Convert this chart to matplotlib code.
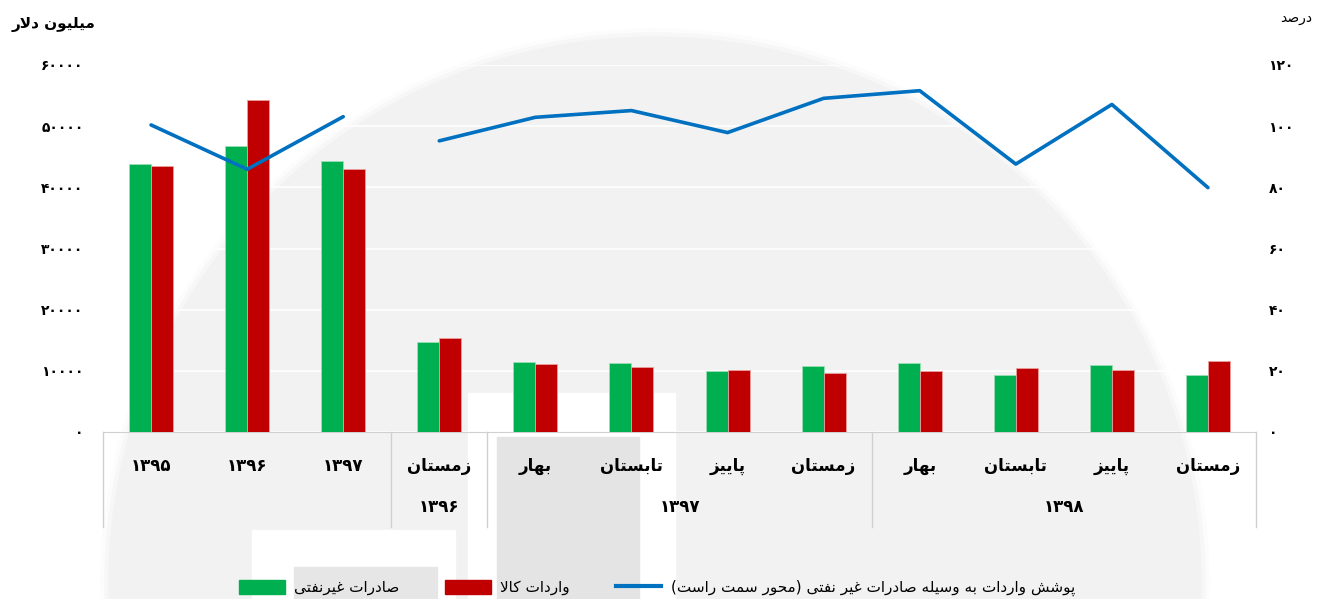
import numpy as np
import matplotlib
matplotlib.use('Agg')
import matplotlib.pyplot as plt
from matplotlib.patches import Ellipse, Rectangle, Patch
from matplotlib.lines import Line2D

# فرم‌های نمایشی حروف فارسی: (جدا، پایانی، آغازی، میانی)
FORMS = {
    'ا': ('\ufe8d', '\ufe8e'), 'د': ('\ufea9', '\ufeaa'), 'ر': ('\ufead', '\ufeae'),
    'ز': ('\ufeaf', '\ufeb0'), 'و': ('\ufeed', '\ufeee'),
    'ب': ('\ufe8f', '\ufe90', '\ufe91', '\ufe92'), 'پ': ('\ufb56', '\ufb57', '\ufb58', '\ufb59'),
    'ت': ('\ufe95', '\ufe96', '\ufe97', '\ufe98'), 'ح': ('\ufea1', '\ufea2', '\ufea3', '\ufea4'),
    'س': ('\ufeb1', '\ufeb2', '\ufeb3', '\ufeb4'), 'ش': ('\ufeb5', '\ufeb6', '\ufeb7', '\ufeb8'),
    'ص': ('\ufeb9', '\ufeba', '\ufebb', '\ufebc'), 'غ': ('\ufecd', '\ufece', '\ufecf', '\ufed0'),
    'ف': ('\ufed1', '\ufed2', '\ufed3', '\ufed4'), 'ک': ('\ufb8e', '\ufb8f', '\ufb90', '\ufb91'),
    'ل': ('\ufedd', '\ufede', '\ufedf', '\ufee0'), 'م': ('\ufee1', '\ufee2', '\ufee3', '\ufee4'),
    'ن': ('\ufee5', '\ufee6', '\ufee7', '\ufee8'), 'ه': ('\ufee9', '\ufeea', '\ufeeb', '\ufeec'),
    'ی': ('\ufbfc', '\ufbfd', '\ufbfe', '\ufbff'),
}


def fa(text):
    # اتصال حروف و برگرداندن ترتیب برای نمایش راست به چپ (اعداد دست نمی‌خورند)
    if not any(c in FORMS for c in text):
        return text

    def joins(c):
        return c in FORMS and len(FORMS[c]) == 4
    out = []
    i = 0
    while i < len(text):
        c = text[i]
        if c not in FORMS:
            out.append(c)
            i += 1
            continue
        prev = text[i - 1] if i > 0 else ''
        lp = joins(prev)
        if c == 'ل' and i + 1 < len(text) and text[i + 1] == 'ا':
            out.append('\ufefc' if lp else '\ufefb')
            i += 2
            continue
        nxt = text[i + 1] if i + 1 < len(text) else ''
        ln = joins(c) and nxt in FORMS
        f = FORMS[c]
        if lp and ln:
            g = f[3]
        elif lp:
            g = f[1]
        elif ln:
            g = f[2]
        else:
            g = f[0]
        out.append(g)
        i += 1
    return ''.join(reversed(out)).translate(str.maketrans('()', ')('))


def fa_num(v):
    return str(v).translate(str.maketrans('0123456789', '۰۱۲۳۴۵۶۷۸۹'))


# داده‌ها
periods = ['۱۳۹۵', '۱۳۹۶', '۱۳۹۷', 'زمستان', 'بهار', 'تابستان', 'پاییز',
           'زمستان', 'بهار', 'تابستان', 'پاییز', 'زمستان']
year_groups = [('۱۳۹۶', 3, 3), ('۱۳۹۷', 4, 7), ('۱۳۹۸', 8, 11)]
saderat = [43810, 46800, 44350, 14710, 11440, 11280, 9970, 10790, 11230, 9320, 10900, 9320]
varedat = [43490, 54230, 42940, 15420, 11120, 10630, 10140, 9650, 9970, 10510, 10190, 11560]
poushesh = [100.4, 85.9, 103.1, 95.2, 102.9, 105.1, 97.9, 109.1, 111.6, 87.6, 107.1, 79.9]
left_ticks = [0, 10000, 20000, 30000, 40000, 50000, 60000]
right_ticks = [0, 20, 40, 60, 80, 100, 120]

plt.rcParams['font.family'] = ['DejaVu Sans']

fig = plt.figure(figsize=(13.18, 5.99), dpi=100)

# لوگوی کم‌رنگ پس‌زمینه
W, H = 1318, 599
for r, col in [(554, '#fcfcfc'), (550, '#f7f7f7'), (546, '#f2f2f2')]:
    fig.add_artist(Ellipse((655 / W, 1 - 583 / H), 2 * r / W, 2 * r / H,
                           transform=fig.transFigure, color=col, zorder=0))
for (x0, y0, x1, y1, col) in [(468, 393, 675, 599, '#ffffff'), (497, 437, 639, 599, '#e4e4e4'),
                              (252, 530, 455, 599, '#ffffff'), (294, 567, 437, 599, '#e6e6e6')]:
    fig.add_artist(Rectangle((x0 / W, 1 - y1 / H), (x1 - x0) / W, (y1 - y0) / H,
                             transform=fig.transFigure, color=col, zorder=0))

ax = fig.add_axes([103 / W, 1 - 432 / H, (1256 - 103) / W, (432 - 65) / H])
ax.set_facecolor('none')
ax2 = ax.twinx()

x = np.arange(len(periods))
bw = 0.229
ax.bar(x - bw / 2, saderat, bw, color='#00B050', edgecolor='#9be0b5', linewidth=0.6, zorder=3)
ax.bar(x + bw / 2, varedat, bw, color='#C00000', edgecolor='#e8a0a0', linewidth=0.6, zorder=3)

# خط پوشش، سالانه و فصلی جدا
ax2.plot(x[:3], poushesh[:3], color='#0070C0', lw=2.6, solid_capstyle='round')
ax2.plot(x[3:], poushesh[3:], color='#0070C0', lw=2.6, solid_capstyle='round')

ax.set_xlim(-0.5, len(periods) - 0.5)
ax.set_ylim(0, 60000)
ax2.set_ylim(0, 120)
ax.set_yticks(left_ticks)
ax.set_yticklabels([fa_num(t) for t in left_ticks], fontsize=10, fontweight='bold')
ax2.set_yticks(right_ticks)
ax2.set_yticklabels([fa_num(t) for t in right_ticks], fontsize=10, fontweight='bold')
ax.tick_params(axis='y', length=0, pad=14)
ax2.tick_params(axis='y', length=0, pad=9)
ax.set_xticks([])
ax.grid(axis='y', color='white', lw=1.2, zorder=1)
for a in (ax, ax2):
    for s in ('left', 'right', 'top', 'bottom'):
        a.spines[s].set_visible(False)
ax.spines['bottom'].set_visible(True)
ax.spines['bottom'].set_color('#d0d0d0')

# جدول برچسب‌های محور افقی
tr = ax.get_xaxis_transform()
for b in [-0.5, 2.5, 3.5, 7.5, 11.5]:
    ax.plot([b, b], [0, -0.259], transform=tr, color='#d0d0d0', lw=1, clip_on=False)
for i, p in enumerate(periods):
    ax.text(i, -0.093, fa(p), transform=tr, ha='center', va='center',
            fontsize=12, fontweight='bold')
for name, a, b in year_groups:
    ax.text((a + b) / 2, -0.204, name, transform=tr, ha='center', va='center',
            fontsize=12, fontweight='bold')

fig.text(12 / W, 1 - 25 / H, fa('میلیون دلار'), ha='left', va='center',
         fontsize=11, fontweight='bold')
fig.text(1312 / W, 1 - 18 / H, fa('درصد'), ha='right', va='center', fontsize=10)

handles = [Patch(color='#00B050'), Patch(color='#C00000'), Line2D([], [], color='#0070C0', lw=3)]
labels = [fa('صادرات غیرنفتی'), fa('واردات کالا'), fa('پوشش واردات به وسیله صادرات غیر نفتی (محور سمت راست)')]
fig.legend(handles, labels, ncol=3, loc='center', bbox_to_anchor=(657 / W, 1 - 588 / H),
           frameon=False, fontsize=11, handlelength=3.0, handleheight=1.0,
           columnspacing=3.0, handletextpad=0.6)

fig.savefig('out.png', dpi=100)
